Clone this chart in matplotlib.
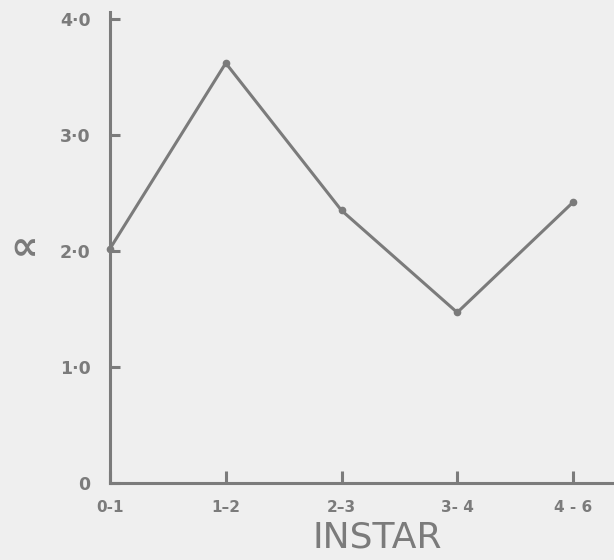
import matplotlib
matplotlib.use("Agg")
import matplotlib.pyplot as plt

# Instar intervals and alpha values
instars = ["0-1", "1–2", "2–3", "3- 4", "4 - 6"]
alpha_vals = [2.02, 3.62, 2.35, 1.47, 2.42]
y_ticks = [0, 1, 2, 3, 4]
y_tick_labels = ["0", "1·0", "2·0", "3·0", "4·0"]

ink = "#7b7b7b"
paper = "#efefef"

W, H = 614, 560
fig = plt.figure(figsize=(W / 100, H / 100), dpi=100, facecolor=paper)

left, right, bottom, top = 110, 614, 483, 12
ax = fig.add_axes([left / W, 1 - bottom / H, (right - left) / W, (bottom - top) / H])
ax.set_facecolor(paper)

x = list(range(len(instars)))
ax.plot(x, alpha_vals, color=ink, lw=2.2, marker="o", ms=4.5,
        mfc=ink, mec=ink, solid_joinstyle="round", clip_on=False, zorder=3)

ax.set_xlim(0, (right - left) / 115.75)
ax.set_ylim(0, (bottom - top) / 116.0)

for s in ["top", "right"]:
    ax.spines[s].set_visible(False)
for s in ["left", "bottom"]:
    ax.spines[s].set_color(ink)
    ax.spines[s].set_linewidth(2.2)

ax.set_xticks(x)
ax.set_xticklabels(instars)
ax.set_yticks(y_ticks)
ax.set_yticklabels(y_tick_labels)
ax.tick_params(axis="x", direction="in", length=9, width=2.2, color=ink,
               labelcolor=ink, labelsize=11, pad=12)
ax.tick_params(axis="y", direction="in", length=7, width=2.2, color=ink,
               labelcolor=ink, labelsize=12.5, pad=14)
for lab in ax.get_xticklabels() + ax.get_yticklabels():
    lab.set_fontweight("bold")

fig.text(377 / W, 1 - 538 / H, "INSTAR", color=ink, fontsize=26,
         ha="center", va="center")
fig.text(24 / W, 1 - 248 / H, "∝", color=ink, fontsize=28,
         fontweight="bold", ha="center", va="center")

fig.savefig("out.png", dpi=100, facecolor=paper)
